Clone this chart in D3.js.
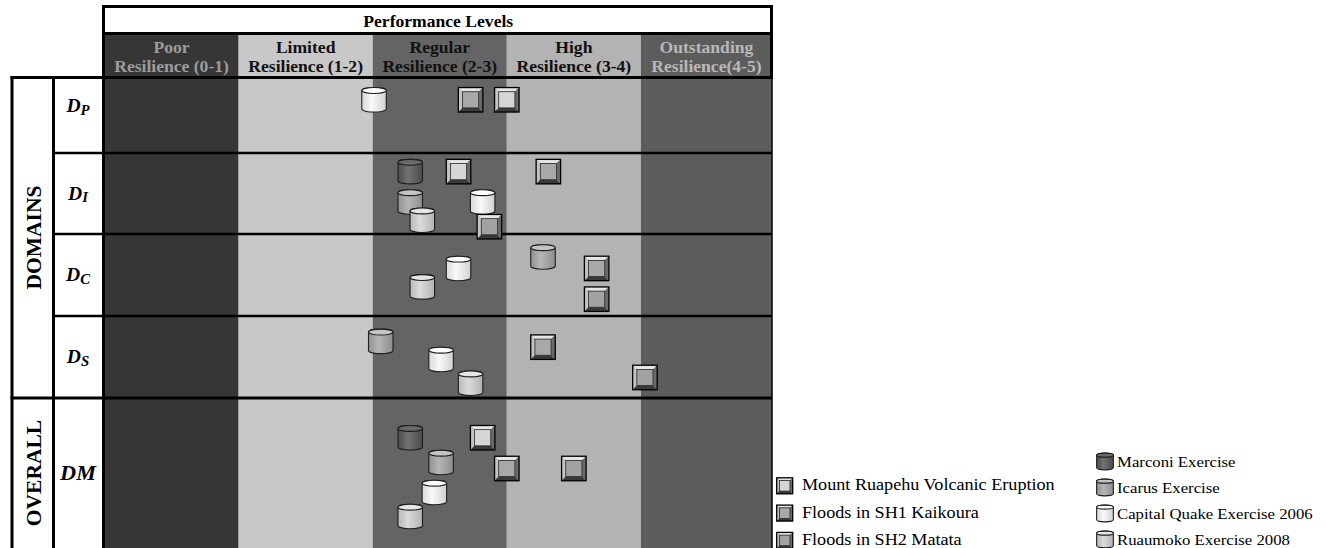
<!DOCTYPE html>
<html><head><meta charset="utf-8">
<script src="https://cdn.jsdelivr.net/npm/d3@7"></script>
<style>body{margin:0;background:#fff;} svg{display:block;}</style>
</head><body>
<script>
// ---------- data ----------
const levelNames  = ["Poor","Limited","Regular","High","Outstanding"];
const levelRanges = ["Resilience (0-1)","Resilience (1-2)","Resilience (2-3)","Resilience (3-4)","Resilience(4-5)"];
const levelColors = ["#363636","#c8c8c8","#646464","#b3b3b3","#5c5c5c"];
const levelTextColors = ["#9c9c9c","#111111","#111111","#111111","#b8b8b8"];
const headerTitle = "Performance Levels";
const rowMain = ["D","D","D","D","DM"];
const rowSub  = ["P","I","C","S",""];
const rowLabelPos = [0.38,0.5,0.5,0.5,0.5];
const groupNames = ["DOMAINS","OVERALL"];
const groupSpans = [[0,4],[4,5]];
const eventNames  = ["Mount Ruapehu Volcanic Eruption","Floods in SH1 Kaikoura","Floods in SH2 Matata"];
const eventColors = ["#d6d6d6","#a8a8a8","#a2a2a2"];
const exerciseNames  = ["Marconi Exercise","Icarus Exercise","Capital Quake Exercise 2006","Ruaumoko Exercise 2008"];
const exerciseColors = ["#595959","#a8a8a8","#f8f8f8","#d4d4d4"];
const exerciseTops   = ["#6a6a6a","#c4c4c4","#ffffff","#e6e6e6"];
// each entry: [row index, score (0-5), vertical position inside the row (0 top .. 1 bottom)]
const ruapehu  = [[0,3.00,0.30],[1,2.64,0.23],[4,2.82,0.265]];
const kaikoura = [[0,2.73,0.30],[1,3.31,0.23],[2,3.67,0.42],[3,3.27,0.38],[4,3.00,0.47]];
const matata   = [[1,2.87,0.91],[2,3.67,0.795],[3,4.03,0.75],[4,3.50,0.47]];
const marconi  = [[1,2.28,0.23],[4,2.28,0.265]];
const icarus   = [[1,2.28,0.605],[2,3.27,0.28],[3,2.06,0.31],[4,2.51,0.43]];
const capital  = [[0,2.01,0.30],[1,2.82,0.605],[2,2.64,0.42],[3,2.51,0.53],[4,2.46,0.63]];
const ruaumoko = [[1,2.37,0.83],[2,2.37,0.645],[3,2.73,0.82],[4,2.28,0.79]];
const eventSeries = [ruapehu, kaikoura, matata];
const exerciseSeries = [marconi, icarus, capital, ruaumoko];

// ---------- layout ----------
const W = 1326, H = 548;
const chartRight = 772;
const x = d3.scaleLinear().domain([0,5]).range([104.5, 775]);
const y = d3.scaleLinear().domain([0,1,2,3,4,5]).range([77,153,234,316,398,548]);
const SERIF = "'Liberation Serif','Times New Roman',serif";

const svg = d3.select("body").append("svg").attr("width", W).attr("height", H);
const defs = svg.append("defs");
const grad = defs.append("linearGradient").attr("id","shade").attr("x1",0).attr("x2",1).attr("y1",0).attr("y2",0);
[[0,"#000",0.12],[0.4,"#fff",0.15],[1,"#000",0.16]].forEach(s =>
  grad.append("stop").attr("offset",s[0]).attr("stop-color",s[1]).attr("stop-opacity",s[2]));

// columns (header + body)
const cols = d3.range(5).map(i => ({i, x0: x(i), x1: Math.min(x(i+1), chartRight)}));
svg.selectAll("rect.col").data(cols).join("rect").attr("class","col")
  .attr("x", d => d.x0).attr("width", d => d.x1 - d.x0)
  .attr("y", 33).attr("height", H - 33)
  .attr("fill", d => levelColors[d.i]);
svg.append("rect").attr("x", x(0)).attr("y", 6).attr("width", chartRight - x(0)).attr("height", 27).attr("fill","#fff");

// header texts
svg.append("text").attr("transform", `translate(${(x(0)+chartRight)/2},26.5) scale(1.1,1)`)
  .attr("text-anchor","middle").attr("font-family",SERIF).attr("font-weight","bold").attr("font-size",16)
  .text(headerTitle);
cols.forEach(d => {
  const cx = (d.x0 + d.x1)/2;
  [[levelNames[d.i],53.3],[levelRanges[d.i],71.7]].forEach(([t,by]) => {
    svg.append("text").attr("transform", `translate(${cx},${by}) scale(1.1,1)`)
      .attr("text-anchor","middle").attr("font-family",SERIF).attr("font-weight","bold").attr("font-size",16)
      .attr("fill",levelTextColors[d.i]).text(t);
  });
});

// left label area
svg.append("rect").attr("x",12).attr("y",77).attr("width",x(0)-12).attr("height",H-77).attr("fill","#fff");
groupNames.forEach((g,i) => {
  const cy = (y(groupSpans[i][0]) + y(groupSpans[i][1]))/2;
  svg.append("text").attr("transform", `translate(40.5,${cy}) rotate(-90)`)
    .attr("text-anchor","middle").attr("font-family",SERIF).attr("font-weight","bold").attr("font-size",21.5)
    .text(g);
});
rowMain.forEach((m,i) => {
  const big = rowSub[i] === "";
  const t = svg.append("text")
    .attr("transform", `translate(78,${y(i + rowLabelPos[i]) + (big ? 7 : 6.3)}) scale(1.06,1)`)
    .attr("text-anchor","middle").attr("font-family",SERIF).attr("font-weight","bold").attr("font-style","italic")
    .attr("font-size", big ? 21 : 18.5).text(m);
  if (!big) t.append("tspan").attr("font-size",14).attr("dy",2.5).text(rowSub[i]);
});

// grid lines
const line = (x1,y1,x2,y2,w) => svg.append("line").attr("x1",x1).attr("y1",y1).attr("x2",x2).attr("y2",y2)
  .attr("stroke","#000").attr("stroke-width",w);
line(102, 6.5, 773, 6.5, 3);
line(102, 33.5, 773, 33.5, 3);
line(10.5, 77.5, 773, 77.5, 3);
line(103.5, 5, 103.5, H, 3);
line(771.5, 5, 771.5, 79, 3);
line(772, 77, 772, H, 1.5);
line(12, 76, 12, H, 3);
line(53.5, 76, 53.5, H, 3);
[1,2,3].forEach(r => line(52, y(r), chartRight, y(r), 2.5));
line(10.5, y(4), chartRight, y(4), 3);

// ---------- markers ----------
function drawSquare(g, cx, cy, s, fill) {
  const x0 = cx - s/2, y0 = cy - s/2, x1 = cx + s/2, y1 = cy + s/2, t = s*0.17;
  g.append("rect").attr("x",x0).attr("y",y0).attr("width",s).attr("height",s).attr("fill","#8c8c8c");
  const poly = (pts, c) => g.append("polygon").attr("points", pts.map(p=>p.join(",")).join(" ")).attr("fill",c);
  poly([[x0,y0],[x1,y0],[x1-t,y0+t],[x0+t,y0+t]], "#e6e6e6");
  poly([[x0,y0],[x0+t,y0+t],[x0+t,y1-t],[x0,y1]], "#c4c4c4");
  poly([[x0,y1],[x0+t,y1-t],[x1-t,y1-t],[x1,y1]], "#3a3a3a");
  poly([[x1,y0],[x1,y1],[x1-t,y1-t],[x1-t,y0+t]], "#6a6a6a");
  g.append("rect").attr("x",x0+t).attr("y",y0+t).attr("width",s-2*t).attr("height",s-2*t)
    .attr("fill",fill).attr("stroke","#2a2a2a").attr("stroke-width",0.8);
  g.append("rect").attr("x",x0).attr("y",y0).attr("width",s).attr("height",s)
    .attr("fill","none").attr("stroke","#000").attr("stroke-width",1.3);
}
function drawCyl(g, cx, cy, w, h, fill, top) {
  const rx = w/2, ry = h*0.12, x0 = cx - rx, x1 = cx + rx, y0 = cy - h/2, y1 = cy + h/2;
  const d = `M${x0},${y0+ry} L${x0},${y1-ry} A${rx},${ry} 0 0 0 ${x1},${y1-ry} L${x1},${y0+ry} A${rx},${ry} 0 0 0 ${x0},${y0+ry} Z`;
  g.append("path").attr("d",d).attr("fill",fill);
  g.append("path").attr("d",d).attr("fill","url(#shade)").attr("stroke","#1e1e1e").attr("stroke-width",1.1);
  g.append("ellipse").attr("cx",cx).attr("cy",y0+ry).attr("rx",rx).attr("ry",ry)
    .attr("fill",top).attr("stroke","#1e1e1e").attr("stroke-width",1.1);
}

const mg = svg.append("g");
exerciseSeries.forEach((ser,k) => ser.forEach(([r,score,pos]) =>
  drawCyl(mg, x(score), y(r+pos), 24.5, 24.5, exerciseColors[k], exerciseTops[k])));
eventSeries.forEach((ser,k) => ser.forEach(([r,score,pos]) =>
  drawSquare(mg, x(score), y(r+pos), 24.5, eventColors[k])));

// ---------- legends ----------
const lg = svg.append("g");
eventNames.forEach((n,i) => {
  const cy = 485.8 + i*27.3;
  drawSquare(lg, 784.7, cy, 16, eventColors[i]);
  lg.append("text").attr("transform", `translate(802,${cy+4.6}) scale(1.1,1)`)
    .attr("font-family",SERIF).attr("font-size",16.5).text(n);
});
exerciseNames.forEach((n,i) => {
  const cy = 461.5 + i*26;
  drawCyl(lg, 1105, cy, 16.7, 16.7, exerciseColors[i], exerciseTops[i]);
  lg.append("text").attr("transform", `translate(1117,${cy+5.5}) scale(1.08,1)`)
    .attr("font-family",SERIF).attr("font-size",15.5).text(n);
});
</script>
</body></html>
